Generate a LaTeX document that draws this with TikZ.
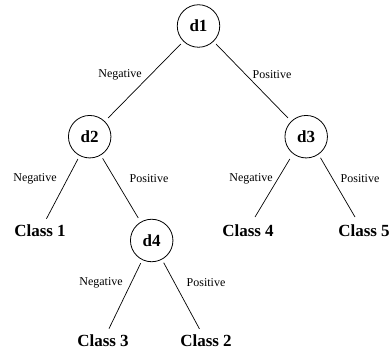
\documentclass[tikz,border=0pt]{standalone}
\usepackage{fontspec}
\setmainfont{Liberation Serif}
\begin{document}
\begin{tikzpicture}[x=1pt,y=-1pt,
  dec/.style={circle,draw,line width=0.8pt,minimum size=42.5pt,inner sep=0pt,outer sep=0pt,font=\fontsize{17}{20}\selectfont\bfseries},
  leaf/.style={inner sep=0pt,outer sep=0pt,font=\fontsize{17}{20}\selectfont\bfseries},
  lbl/.style={inner sep=0pt,outer sep=0pt,font=\fontsize{12}{14}\selectfont},
  conn/.style={line width=0.7pt,shorten <=4pt,shorten >=5pt},
  connleaf/.style={line width=0.7pt,shorten <=4pt,shorten >=7pt}]
\useasboundingbox (0,0) rectangle (391,352);
\node[dec] (d1) at (198.5,26) {d1};
\node[dec] (d2) at (89.7,136.7) {d2};
\node[dec] (d3) at (306.2,136.7) {d3};
\node[dec] (d4) at (151.7,240.5) {d4};
\node[leaf] (c1) at (40,231) {Class 1};
\node[leaf] (c4) at (248,231) {Class 4};
\node[leaf] (c5) at (364,231) {Class 5};
\node[leaf] (c3) at (103,341) {Class 3};
\node[leaf] (c2) at (206,341) {Class 2};
\draw[conn] (d1) -- (d2);
\draw[conn] (d1) -- (d3);
\draw[connleaf] (d2) -- (c1);
\draw[conn] (d2) -- (d4);
\draw[conn,shorten <=26pt,shorten >=0pt] ([xshift=-3pt]d3.center) -- ([xshift=7pt,yshift=8pt]c4.north);
\draw[conn,shorten <=24.5pt,shorten >=0pt] ([xshift=2pt]d3.center) -- ([xshift=-9pt,yshift=8pt]c5.north);
\draw[connleaf] (d4) -- (c3);
\draw[connleaf] (d4) -- (c2);
\node[lbl] (l1) at (120,75) {Negative};
\node[lbl] (l2) at (272,75) {Positive};
\node[lbl] (l3) at (35,179) {Negative};
\node[lbl] (l4) at (149,179) {Positive};
\node[lbl] (l5) at (251,179) {Negative};
\node[lbl] (l6) at (360,179) {Positive};
\node[lbl] (l7) at (101,283) {Negative};
\node[lbl] (l8) at (206,283) {Positive};
\end{tikzpicture}
\end{document}
